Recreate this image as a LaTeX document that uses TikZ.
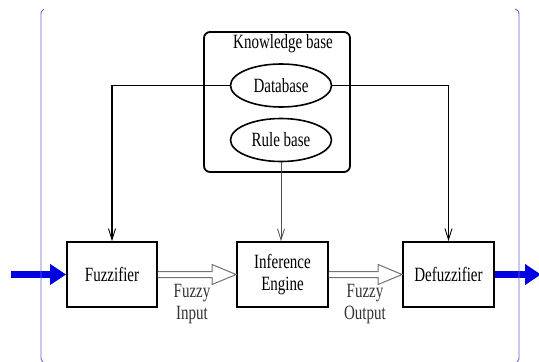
\documentclass[tikz,border=0pt]{standalone}
\usepackage{fontspec}
\setmainfont{Liberation Serif}
\usetikzlibrary{arrows.meta,shapes.geometric,calc}
\newcommand{\vst}[1]{\scalebox{1}[1.35]{#1}}
\begin{document}
\begin{tikzpicture}[x=1pt,y=-1pt,
  txt/.style={font=\fontsize{15}{22}\selectfont, align=center, inner sep=0pt},
  blockbox/.style={draw=black, line width=1.8pt, minimum width=90pt, minimum height=65pt, txt},
  ell/.style={draw=black, line width=1.6pt, ellipse, minimum width=101pt, minimum height=43pt, txt},
  kbbox/.style={draw=black, line width=1.8pt, rounded corners=6pt, minimum width=146pt, minimum height=140pt, inner sep=0pt},
  conn/.style={draw=black, line width=1.4pt, -{Straight Barb[length=11pt,width=7pt,line width=0.9pt]}},
  thinconn/.style={draw=black!70, line width=0.9pt, -{Straight Barb[length=11pt,width=7pt,line width=0.8pt]}},
  bluearrow/.style={draw={rgb,255:red,0;green,0;blue,225}, line width=6.5pt, -{Triangle[length=16pt,width=20pt]}},
  hollow/.style={draw=black!55, line width=1pt, fill=white, line join=miter},
  frame/.style={draw={rgb,255:red,100;green,100;blue,220}, line width=0.9pt}
]
\useasboundingbox (0,0) rectangle (539,362);
% knowledge base
\node[kbbox] (kb) at (277,102) {};
\node[txt] (kbl) at (283,44) {\vst{Knowledge base}};
\node[ell] (db) at (281,85.5) {\vst{Database}};
\node[ell] (rb) at (281,140) {\vst{Rule base}};
% blocks
\node[blockbox] (fuzz) at (112,274.5) {\vst{Fuzzifier}};
\node[blockbox, minimum width=91pt] (inf) at (282.5,274.5) {\vst{Inference}\\\vst{Engine}};
\node[blockbox, minimum width=91pt] (defuzz) at (448.5,274.5) {\vst{Defuzzifier}};
% connectors from knowledge base
\draw[conn] (db.west) -| (fuzz.north);
\draw[conn] (db.east) -| (defuzz.north);
\draw[thinconn] (rb.south) -- (rb.south |- inf.north);
% hollow arrows
\draw[hollow] ($(fuzz.east)+(0,-3)$) -- ($(inf.west)+(-24,-3)$) -- ($(inf.west)+(-24,-10)$) -- (inf.west) -- ($(inf.west)+(-24,10)$) -- ($(inf.west)+(-24,3)$) -- ($(fuzz.east)+(0,3)$);
\draw[hollow] ($(inf.east)+(0,-3)$) -- ($(defuzz.west)+(-24,-3)$) -- ($(defuzz.west)+(-24,-10)$) -- (defuzz.west) -- ($(defuzz.west)+(-24,10)$) -- ($(defuzz.west)+(-24,3)$) -- ($(inf.east)+(0,3)$);
\node[txt, text=black!80] (fin) at (192,304) {\vst{Fuzzy}\\\vst{Input}};
\node[txt, text=black!80] (fout) at (365,304) {\vst{Fuzzy}\\\vst{Output}};
% blue input / output
\coordinate (inp) at (11,274.5);
\coordinate (outp) at (541,274.5);
\draw[bluearrow] (inp) -- (fuzz.west);
\draw[bluearrow] (defuzz.east) -- (outp);
% frame
\draw[frame] (44,9) .. controls (41,11) .. (41,18) -- (41,355) .. controls (41,360) .. (43,362);
\draw[frame] (515,9) .. controls (519,11) .. (519,18) -- (519,355) .. controls (519,360) .. (517,362);
\end{tikzpicture}
\end{document}
